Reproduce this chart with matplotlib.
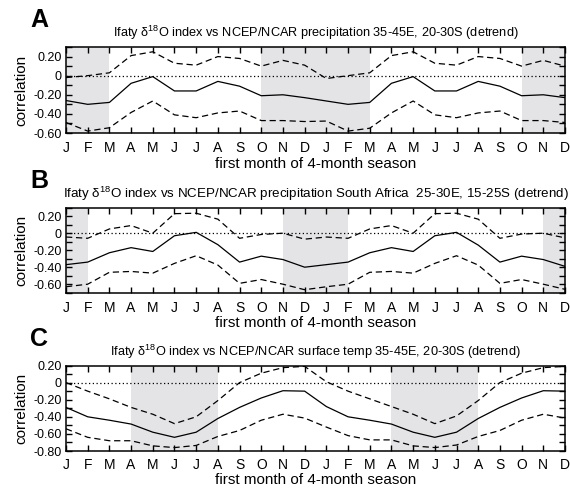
import matplotlib
matplotlib.use('Agg')
import matplotlib.pyplot as plt

plt.rcParams['font.family'] = ['Liberation Sans', 'DejaVu Sans']
plt.rcParams['mathtext.fontset'] = 'custom'
plt.rcParams['mathtext.rm'] = 'Liberation Sans'
plt.rcParams['mathtext.it'] = 'Liberation Sans'

# meses (duas voltas no ano)
meses = ['J', 'F', 'M', 'A', 'M', 'J', 'J', 'A', 'S', 'O', 'N', 'D',
         'J', 'F', 'M', 'A', 'M', 'J', 'J', 'A', 'S', 'O', 'N', 'D']

# painel A - precipitacao 35-45E, 20-30S
a_corr = [-0.26, -0.30, -0.28, -0.08, -0.01, -0.16, -0.16, -0.06, -0.11, -0.21, -0.20, -0.23,
          -0.265, -0.30, -0.28, -0.08, -0.01, -0.16, -0.16, -0.06, -0.11, -0.21, -0.20, -0.23]
a_sup = [-0.02, 0.00, 0.03, 0.21, 0.25, 0.13, 0.11, 0.20, 0.18, 0.10, 0.16, 0.11,
         -0.03, 0.00, 0.03, 0.21, 0.25, 0.13, 0.11, 0.20, 0.18, 0.10, 0.16, 0.10]
a_inf = [-0.49, -0.58, -0.545, -0.385, -0.265, -0.41, -0.44, -0.39, -0.37, -0.47, -0.47, -0.48,
         -0.475, -0.58, -0.55, -0.39, -0.265, -0.41, -0.44, -0.39, -0.37, -0.47, -0.47, -0.49]

# painel B - precipitacao Africa do Sul
b_corr = [-0.37, -0.34, -0.23, -0.17, -0.215, -0.03, 0.01, -0.135, -0.34, -0.27, -0.31, -0.40,
          -0.37, -0.34, -0.23, -0.17, -0.215, -0.03, 0.01, -0.14, -0.34, -0.27, -0.31, -0.39]
b_sup = [-0.045, -0.06, 0.05, 0.09, 0.00, 0.23, 0.235, 0.165, -0.06, -0.015, 0.00, -0.07,
         -0.045, -0.06, 0.05, 0.09, 0.00, 0.23, 0.235, 0.165, -0.06, -0.01, 0.00, -0.055]
b_inf = [-0.63, -0.60, -0.46, -0.45, -0.47, -0.355, -0.265, -0.375, -0.59, -0.545, -0.60, -0.665,
         -0.63, -0.60, -0.46, -0.45, -0.47, -0.355, -0.265, -0.375, -0.59, -0.545, -0.60, -0.66]

# painel C - temperatura de superficie
c_corr = [-0.29, -0.40, -0.44, -0.485, -0.58, -0.64, -0.58, -0.42, -0.29, -0.18, -0.095, -0.10,
          -0.28, -0.40, -0.44, -0.485, -0.58, -0.64, -0.58, -0.42, -0.29, -0.18, -0.095, -0.10]
c_sup = [0.00, -0.10, -0.19, -0.29, -0.37, -0.48, -0.40, -0.21, 0.00, 0.11, 0.175, 0.19,
         0.01, -0.10, -0.19, -0.28, -0.37, -0.48, -0.39, -0.21, 0.00, 0.11, 0.175, 0.19]
c_inf = [-0.54, -0.64, -0.68, -0.68, -0.74, -0.76, -0.735, -0.63, -0.56, -0.44, -0.37, -0.415,
         -0.52, -0.62, -0.67, -0.67, -0.74, -0.76, -0.73, -0.63, -0.56, -0.44, -0.37, -0.415]

# faixas sombreadas (indice inicial, final)
a_faixas = [(0, 2), (9, 14), (21, 23)]
b_faixas = [(0, 1), (10, 13), (22, 23)]
c_faixas = [(3, 7), (15, 19)]

titulos = [
    r'Ifaty $\mathrm{\delta^{18}}$O index vs NCEP/NCAR precipitation 35-45E, 20-30S (detrend)',
    r'Ifaty $\mathrm{\delta^{18}}$O index vs NCEP/NCAR precipitation South Africa  25-30E, 15-25S (detrend)',
    r'Ifaty $\mathrm{\delta^{18}}$O index vs NCEP/NCAR surface temp 35-45E, 20-30S (detrend)',
]
letras = ['A', 'B', 'C']

paineis = [
    (a_corr, a_sup, a_inf, a_faixas, (-0.6, 0.3), [-0.6, -0.4, -0.2, 0, 0.2],
     ['-0.60', '-0.40', '-0.20', '0', '0.20']),
    (b_corr, b_sup, b_inf, b_faixas, (-0.7, 0.3), [-0.6, -0.4, -0.2, 0, 0.2],
     ['-0.60', '-0.40', '-0.20', '0', '0.20']),
    (c_corr, c_sup, c_inf, c_faixas, (-0.8, 0.2), [-0.8, -0.6, -0.4, -0.2, 0, 0.2],
     ['-0.80', '-0.60', '-0.40', '-0.20', '0', '0.20']),
]

# posicoes dos eixos em pixels (topo, base)
pos = [(47, 133), (207.7, 292.7), (365.5, 451)]
W, H = 570, 488
tam_titulo = [9.2, 9.6, 9.2]
pad_xlabel = [1, 1, 0.5]

fig = plt.figure(figsize=(5.7, 4.88), dpi=100)
x = list(range(len(meses)))

for i, (corr, sup, inf, faixas, ylim, yt, ytl) in enumerate(paineis):
    topo, base = pos[i]
    ax = fig.add_axes([66 / W, 1 - base / H, (565 - 66) / W, (base - topo) / H])
    for x0, x1 in faixas:
        ax.axvspan(x0, x1, color='#e4e4e6', lw=0, zorder=0)
    ax.axhline(0, color='black', linestyle=(0, (1, 2)), linewidth=0.9)
    ax.plot(x, corr, color='black', linewidth=0.9)
    ax.plot(x, sup, color='black', linewidth=0.9, dashes=(5, 3))
    ax.plot(x, inf, color='black', linewidth=0.9, dashes=(5, 3))
    ax.set_xlim(0, len(meses) - 1)
    ax.set_ylim(*ylim)
    ax.set_xticks(x)
    ax.set_xticklabels(meses, fontsize=10)
    ax.set_yticks(yt)
    ax.set_yticklabels(ytl, fontsize=9)
    ax.set_yticks([v / 10 for v in range(int(ylim[0] * 10), int(ylim[1] * 10) + 1)], minor=True)
    ax.tick_params(axis='both', which='both', direction='in', top=True, right=True, length=4.5, width=1)
    ax.tick_params(axis='x', pad=6 if i < 2 else 5)
    ax.tick_params(axis='y', pad=3)
    for s in ax.spines.values():
        s.set_linewidth(1.1)
    ax.set_ylabel('correlation', fontsize=11, labelpad=4)
    ax.set_xlabel('first month of 4-month season', fontsize=11, labelpad=pad_xlabel[i])
    fig.text(30 / W, 1 - (topo - 27) / H, letras[i], fontsize=18, fontweight='bold', va='center', ha='left')
    ax.set_title(titulos[i], fontsize=tam_titulo[i], pad=7)

fig.savefig('out.png', dpi=100)
